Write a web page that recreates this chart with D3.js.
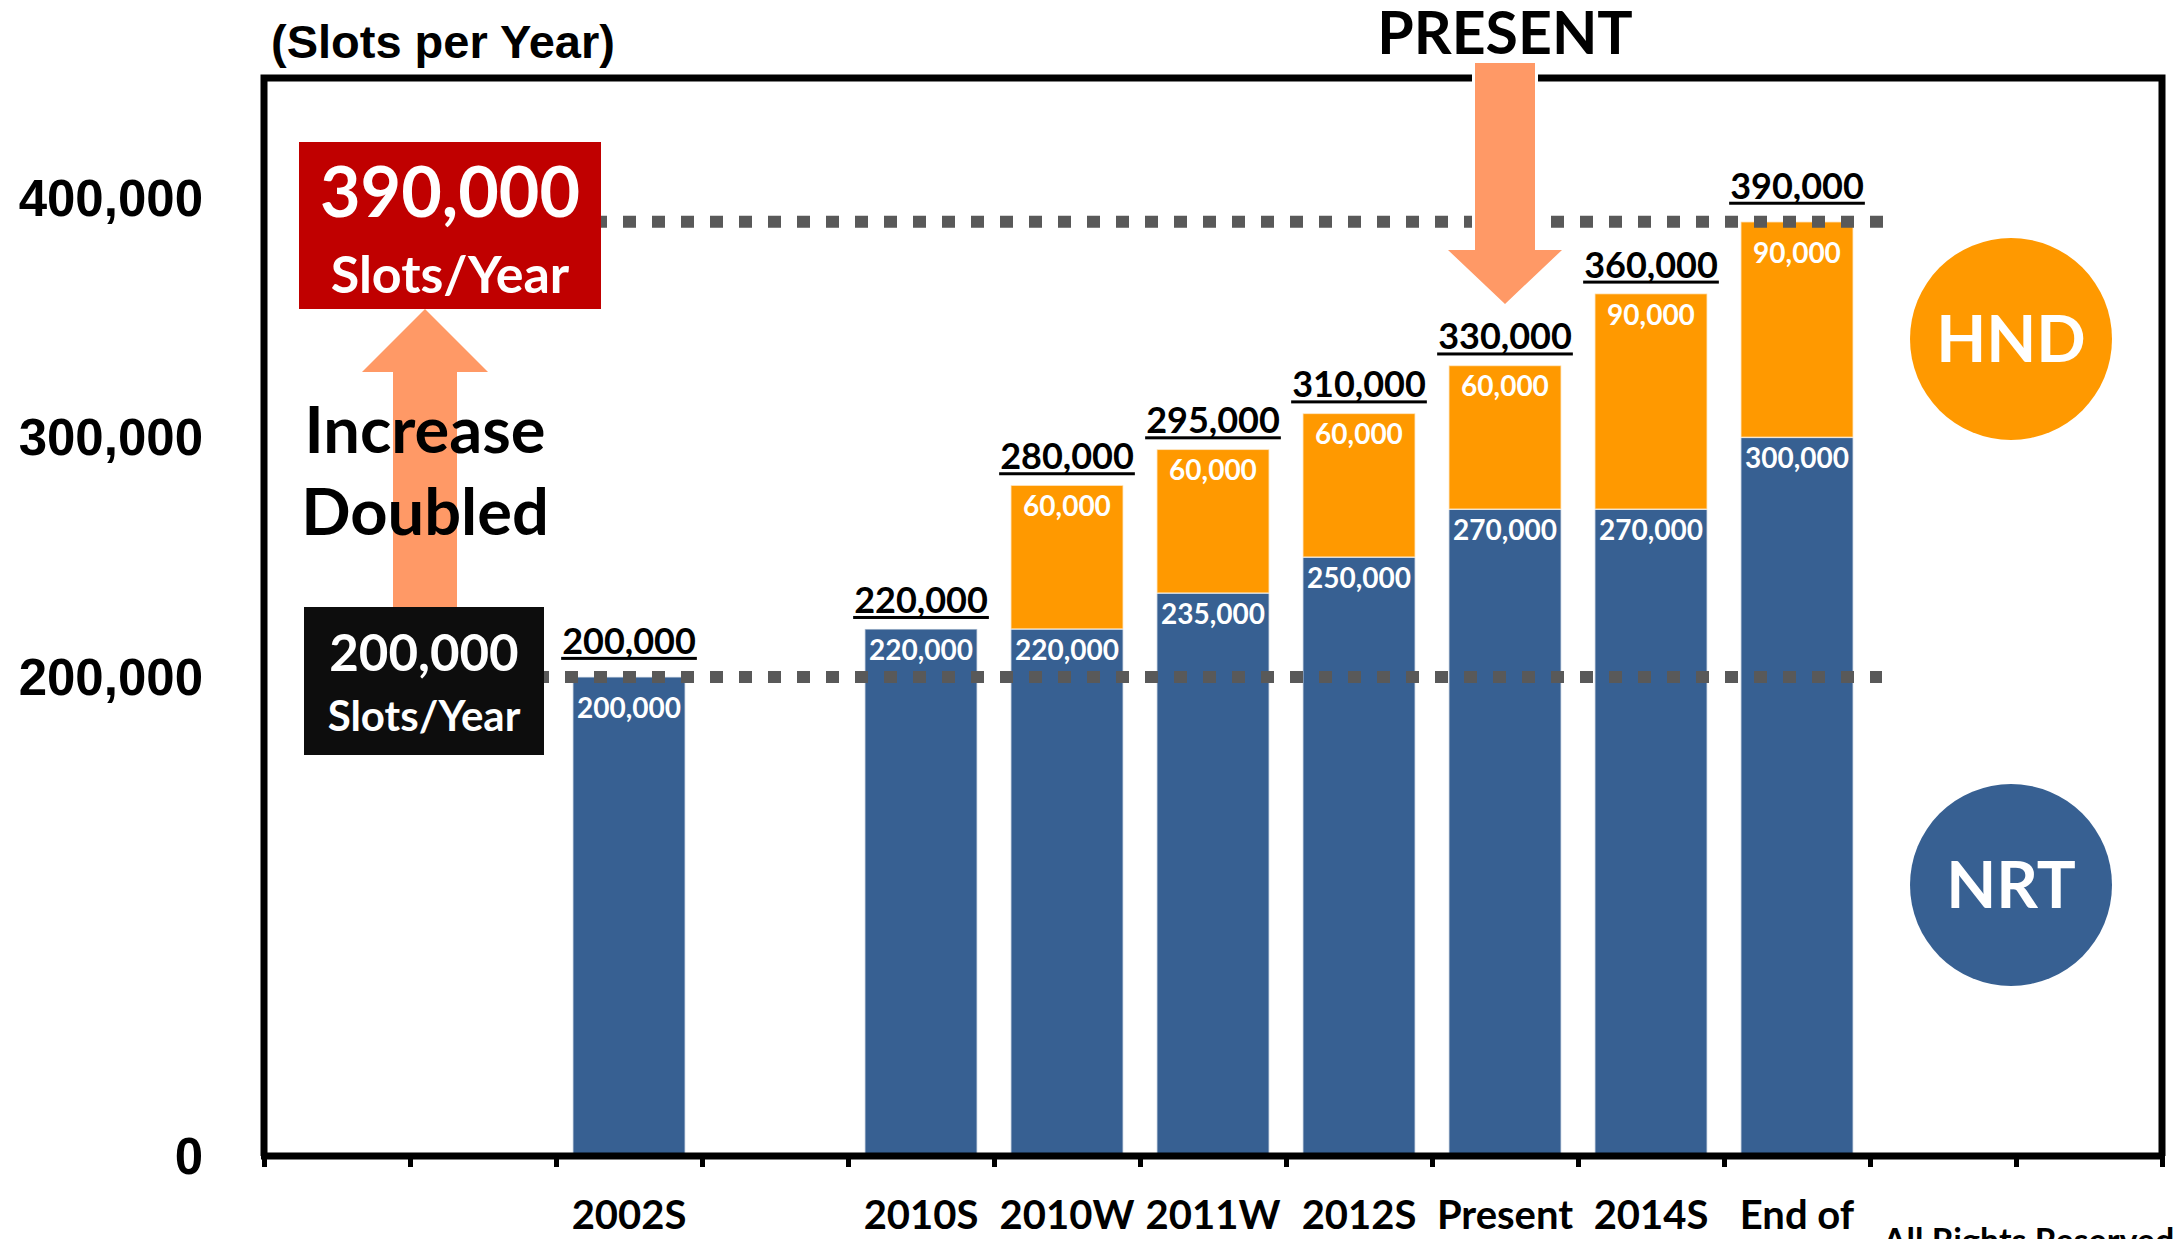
<!DOCTYPE html>
<html>
<head>
<meta charset="utf-8">
<script src="https://cdn.jsdelivr.net/npm/d3@7"></script>
<style>
  body { margin: 0; background: #fff; }
  text { font-family: Lato, "Open Sans", sans-serif; font-weight: bold; }
  .arial { font-family: "Liberation Sans", Arial, sans-serif; }
</style>
</head>
<body>
<div id="chart"></div>
<script>
// DATA

var slotCount = 13
var periods = ["2002S", "2010S", "2010W", "2011W", "2012S", "Present", "2014S", "End of"]
var periodSlots = [2, 4, 5, 6, 7, 8, 9, 10]
var nrtSlots = [200000, 220000, 220000, 235000, 250000, 270000, 270000, 300000]
var hndSlots = [0, 0, 60000, 60000, 60000, 60000, 90000, 90000]
var yTicks = [0, 200000, 300000, 400000]
var refLevels = [200000, 390000]
var presentPeriod = "Present"

// DIMENSIONS

var svgWidth = 2179
var svgHeight = 1239

var margin = { top: 78, left: 264, right: 17, bottom: 83 }
var width = svgWidth - margin.left - margin.right
var height = svgHeight - margin.top - margin.bottom

var blue = "#376092", orange = "#FF9900", salmon = "#FF9966"

var svg = d3.select("#chart").append("svg")
    .attr("width", svgWidth)
    .attr("height", svgHeight)

var chartGroup = svg.append("g")
    .attr("transform", `translate(${margin.left}, ${margin.top})`)

var xScale = d3.scaleBand().domain(d3.range(slotCount)).range([0, width]).paddingInner(0.23).paddingOuter(0.115)
var slotScale = d3.scaleLinear().domain([0, slotCount]).range([0, width])
var yScale = d3.scaleLinear().domain([0, 450000]).range([height, 0])
var fmt = d3.format(",")

var rows = periods.map((p, i) => ({ period: p, slot: periodSlots[i], NRT: nrtSlots[i], HND: hndSlots[i] }))
var stacked = d3.stack().keys(["NRT", "HND"])(rows)

// frame
chartGroup.append("path")
    .attr("d", `M0,${height} V0 H${width} V${height}`)
    .attr("fill", "none")
    .attr("stroke", "#000")
    .attr("stroke-width", 7)

// bars
var layers = chartGroup.selectAll("g.layer")
    .data(stacked)
    .enter()
    .append("g")
    .attr("fill", d => d.key == "NRT" ? blue : orange)

layers.selectAll("rect")
    .data(d => d.filter(s => s[1] > s[0]))
    .enter()
    .append("rect")
    .attr("x", d => xScale(d.data.slot))
    .attr("width", xScale.bandwidth())
    .attr("y", d => yScale(d[1]))
    .attr("height", d => yScale(d[0]) - yScale(d[1]))
    .attr("stroke", "rgba(255,255,255,0.6)")
    .attr("stroke-width", 1.5)

// reference dotted lines
chartGroup.selectAll("line.ref")
    .data(refLevels)
    .enter()
    .append("line")
    .attr("x1", 40)
    .attr("x2", (d, i) => slotScale(11) + 12 + i * 12)
    .attr("y1", d => yScale(d))
    .attr("y2", d => yScale(d))
    .attr("stroke", "#595959")
    .attr("stroke-width", 12)
    .attr("stroke-dasharray", "13 16")

// segment labels
layers.selectAll("text")
    .data(d => d.filter(s => s[1] > s[0]))
    .enter()
    .append("text")
    .attr("x", d => xScale(d.data.slot) + xScale.bandwidth() / 2)
    .attr("y", d => yScale(d[1]) + (refLevels.includes(d[1]) ? 41 : 31))
    .attr("text-anchor", "middle")
    .attr("fill", "#fff")
    .style("font-size", "28px")
    .text(d => fmt(d[1] - d[0]))

// totals, underlined (lifted a bit where a dotted line runs)
var totals = chartGroup.selectAll("g.total")
    .data(rows)
    .enter()
    .append("g")
    .attr("transform", d => {
        var t = d.NRT + d.HND
        var lift = refLevels.includes(t) ? 7 : 0
        return `translate(${xScale(d.slot) + xScale.bandwidth() / 2}, ${yScale(t) - lift})`
    })

totals.append("text")
    .attr("y", -16)
    .attr("text-anchor", "middle")
    .style("font-size", "36px")
    .text(d => fmt(d.NRT + d.HND))

totals.each(function() {
    var g = d3.select(this)
    var w = g.select("text").node().getComputedTextLength()
    g.append("rect")
        .attr("x", -w / 2 - 1)
        .attr("width", w + 2)
        .attr("y", -13)
        .attr("height", 3)
        .attr("fill", "#000")
})

// bottom axis
var xAxis = d3.axisBottom(slotScale).ticks(slotCount).tickSize(11).tickFormat("")
var axisG = chartGroup.append("g")
    .attr("transform", `translate(0, ${height})`)
    .call(xAxis)
axisG.select(".domain").attr("stroke", "#000").attr("stroke-width", 7).attr("d", `M-3,0H${width + 3}`)
axisG.selectAll(".tick line").attr("stroke", "#000").attr("stroke-width", 5)

chartGroup.selectAll("text.xlab")
    .data(rows)
    .enter()
    .append("text")
    .attr("x", d => xScale(d.slot) + xScale.bandwidth() / 2)
    .attr("y", height + 73)
    .attr("text-anchor", "middle")
    .style("font-size", "40px")
    .text(d => d.period)

// y tick labels
chartGroup.selectAll("text.ylab")
    .data(yTicks)
    .enter()
    .append("text")
    .attr("class", "arial")
    .attr("x", -61)
    .attr("y", d => yScale(d) + 18)
    .attr("text-anchor", "end")
    .style("font-size", "51px")
    .text(d => fmt(d))

svg.append("text")
    .attr("class", "arial")
    .attr("x", 271)
    .attr("y", 58)
    .style("font-size", "47px")
    .text("(Slots per Year)")

svg.append("text")
    .attr("x", 1883)
    .attr("y", 1253)
    .style("font-size", "34px")
    .text("All Rights Reserved")

// up arrow (increase)
var ax = 425
svg.append("path")
    .attr("d", `M${ax},309 L${ax + 63},372 L${ax + 32},372 L${ax + 32},610 L${ax - 32},610 L${ax - 32},372 L${ax - 63},372 Z`)
    .attr("fill", salmon)

// red box (390,000)
svg.append("rect").attr("x", 299).attr("y", 142).attr("width", 302).attr("height", 167).attr("fill", "#C00000")
svg.append("text").attr("x", 450).attr("y", 217).attr("text-anchor", "middle").attr("fill", "#fff")
    .style("font-size", "70px").text(fmt(refLevels[1]))
svg.append("text").attr("x", 450).attr("y", 293).attr("text-anchor", "middle").attr("fill", "#fff")
    .style("font-size", "52px").text("Slots/Year")

// black box (200,000)
svg.append("rect").attr("x", 304).attr("y", 607).attr("width", 240).attr("height", 148).attr("fill", "#0D0D0D")
svg.append("text").attr("x", 424).attr("y", 671).attr("text-anchor", "middle").attr("fill", "#fff")
    .style("font-size", "51px").text(fmt(refLevels[0]))
svg.append("text").attr("x", 424).attr("y", 731).attr("text-anchor", "middle").attr("fill", "#fff")
    .style("font-size", "42px").text("Slots/Year")

svg.append("text").attr("x", ax).attr("y", 453).attr("text-anchor", "middle")
    .style("font-size", "65px").text("Increase")
svg.append("text").attr("x", ax).attr("y", 535).attr("text-anchor", "middle")
    .style("font-size", "65px").text("Doubled")

// present arrow
var px = margin.left + xScale(periodSlots[periods.indexOf(presentPeriod)]) + xScale.bandwidth() / 2
svg.append("path")
    .attr("d", `M${px - 30},63 L${px + 30},63 L${px + 30},250 L${px + 57},250 L${px},304 L${px - 57},250 L${px - 30},250 Z`)
    .attr("fill", salmon)
    .attr("stroke", "#fff")
    .attr("stroke-width", 6)
    .attr("paint-order", "stroke")
svg.append("text").attr("x", px).attr("y", 54).attr("text-anchor", "middle")
    .style("font-size", "59px").text("PRESENT")

// legend circles
var legend = [{ key: "HND", color: orange, cy: 339 }, { key: "NRT", color: blue, cy: 885 }]
var lg = svg.selectAll("g.legend")
    .data(legend)
    .enter()
    .append("g")
    .attr("transform", d => `translate(2011, ${d.cy})`)
lg.append("circle").attr("r", 101).attr("fill", d => d.color)
lg.append("text").attr("y", 23).attr("text-anchor", "middle").attr("fill", "#fff")
    .style("font-size", "65px").text(d => d.key)
</script>
</body>
</html>
